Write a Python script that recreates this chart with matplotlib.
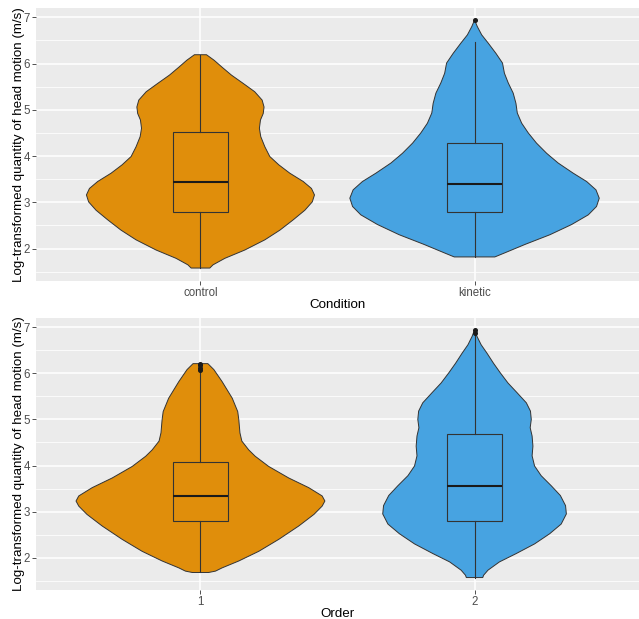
import numpy as np
import matplotlib
matplotlib.use("Agg")
from matplotlib import pyplot as plt

# ---- data ----
cond_labels = ["control", "kinetic"]
order_labels = ["1", "2"]

# violin outlines: y values and half widths (x units)
control_y = [6.19, 6.07, 5.93, 5.75, 5.57, 5.39, 5.21, 5.06, 4.92, 4.78, 4.6, 4.42, 4.2, 3.99, 3.81, 3.63, 3.45, 3.3, 3.16, 3.01, 2.83, 2.62, 2.40, 2.19, 1.97, 1.79, 1.65, 1.58]
control_w = [0.022, 0.05, 0.077, 0.113, 0.156, 0.198, 0.225, 0.232, 0.229, 0.219, 0.215, 0.22, 0.235, 0.253, 0.286, 0.326, 0.375, 0.405, 0.416, 0.408, 0.381, 0.338, 0.29, 0.235, 0.162, 0.089, 0.046, 0.034]

kinetic_y = [6.94, 6.8, 6.62, 6.44, 6.22, 6.01, 5.79, 5.58, 5.36, 5.14, 4.93, 4.71, 4.5, 4.28, 4.06, 3.85, 3.63, 3.45, 3.27, 3.09, 2.91, 2.73, 2.52, 2.3, 2.09, 1.91, 1.82]
kinetic_w = [0.0, 0.01, 0.026, 0.05, 0.078, 0.102, 0.109, 0.123, 0.141, 0.151, 0.156, 0.172, 0.196, 0.226, 0.263, 0.305, 0.36, 0.409, 0.443, 0.455, 0.445, 0.415, 0.354, 0.275, 0.184, 0.111, 0.074]

order1_y = [6.21, 6.08, 5.82, 5.46, 5.17, 4.99, 4.71, 4.53, 4.34, 4.2, 3.98, 3.73, 3.52, 3.34, 3.23, 3.12, 2.94, 2.69, 2.4, 2.14, 1.93, 1.78, 1.71, 1.68]
order1_w = [0.027, 0.049, 0.079, 0.116, 0.136, 0.14, 0.144, 0.151, 0.176, 0.2, 0.249, 0.322, 0.395, 0.444, 0.454, 0.444, 0.414, 0.359, 0.286, 0.213, 0.14, 0.079, 0.055, 0.03]

order2_y = [6.94, 6.8, 6.62, 6.44, 6.22, 6.01, 5.79, 5.58, 5.36, 5.18, 5.0, 4.82, 4.64, 4.42, 4.21, 3.99, 3.78, 3.56, 3.35, 3.13, 2.95, 2.73, 2.52, 2.3, 2.09, 1.91, 1.73, 1.62, 1.57]
order2_w = [0.0, 0.009, 0.024, 0.045, 0.069, 0.094, 0.122, 0.155, 0.189, 0.204, 0.207, 0.203, 0.21, 0.213, 0.21, 0.219, 0.243, 0.28, 0.313, 0.332, 0.335, 0.316, 0.274, 0.219, 0.152, 0.091, 0.049, 0.033, 0.03]

# box stats: whisker low, q1, median, q3, whisker high, outliers
control_box = [1.58, 2.80, 3.44, 4.52, 6.19, []]
kinetic_box = [1.82, 2.80, 3.39, 4.29, 6.47, [6.94]]
order1_box = [1.68, 2.79, 3.33, 4.07, 6.03, [6.07, 6.12, 6.17, 6.21]]
order2_box = [1.57, 2.80, 3.55, 4.68, 6.83, [6.88, 6.93]]

fill_colors = ["#E08E0B", "#47A3E1"]

plt.rcParams["font.family"] = ["Liberation Sans", "DejaVu Sans"]

fig = plt.figure(figsize=(6.39, 6.19), dpi=100)
W, H = 639, 619


def panel(rect, outlines, boxes, labels, xtitle):
    ax = fig.add_axes([rect[0] / W, 1 - rect[3] / H, (rect[2] - rect[0]) / W, (rect[3] - rect[1]) / H])
    ax.set_facecolor("#EBEBEB")
    for s in ax.spines.values():
        s.set_visible(False)
    ax.set_ylim(1.30, 7.20)
    ax.set_yticks([2, 3, 4, 5, 6, 7])
    ax.set_yticks([1.5, 2.5, 3.5, 4.5, 5.5, 6.5], minor=True)
    ax.grid(True, which="major", color="white", linewidth=1.1)
    ax.grid(True, which="minor", axis="y", color="white", linewidth=0.55)
    ax.set_axisbelow(True)
    ax.tick_params(which="major", length=3, width=0.6, color="#333333", labelcolor="#4D4D4D", labelsize=8.3, pad=1.5)
    ax.tick_params(which="minor", length=0)

    for i, (ys, ws) in enumerate(outlines):
        x = i + 1
        ys = np.array(ys)
        ws = np.array(ws)
        xs = np.concatenate([x - ws, (x + ws)[::-1]])
        yy = np.concatenate([ys, ys[::-1]])
        ax.fill(xs, yy, facecolor=fill_colors[i], edgecolor="#333333", linewidth=0.7, zorder=2)

    stats = []
    for b in boxes:
        stats.append({"whislo": b[0], "q1": b[1], "med": b[2], "q3": b[3], "whishi": b[4], "fliers": b[5]})
    ax.bxp(stats, positions=[1, 2], widths=0.2, showcaps=False, patch_artist=True,
           boxprops=dict(facecolor="none", edgecolor="#333333", linewidth=0.8),
           medianprops=dict(color="#1A1A1A", linewidth=1.5),
           whiskerprops=dict(color="#333333", linewidth=0.8),
           flierprops=dict(marker="o", markerfacecolor="#1A1A1A", markeredgecolor="#1A1A1A", markersize=2.6),
           zorder=3)
    ax.set_xticks([1, 2])
    ax.set_xticklabels(labels)
    ax.set_xlim(0.4, 2.6)

    ax.set_xlabel(xtitle, fontsize=9.6, labelpad=0)
    ax.set_ylabel("Log-transformed quantity of head motion (m/s)", fontsize=9.6, labelpad=-1)
    return ax


panel([36, 8, 639, 281], [(control_y, control_w), (kinetic_y, kinetic_w)],
      [control_box, kinetic_box], cond_labels, "Condition")
panel([36, 318, 639, 590], [(order1_y, order1_w), (order2_y, order2_w)],
      [order1_box, order2_box], order_labels, "Order")

fig.savefig("out.png", dpi=100)
